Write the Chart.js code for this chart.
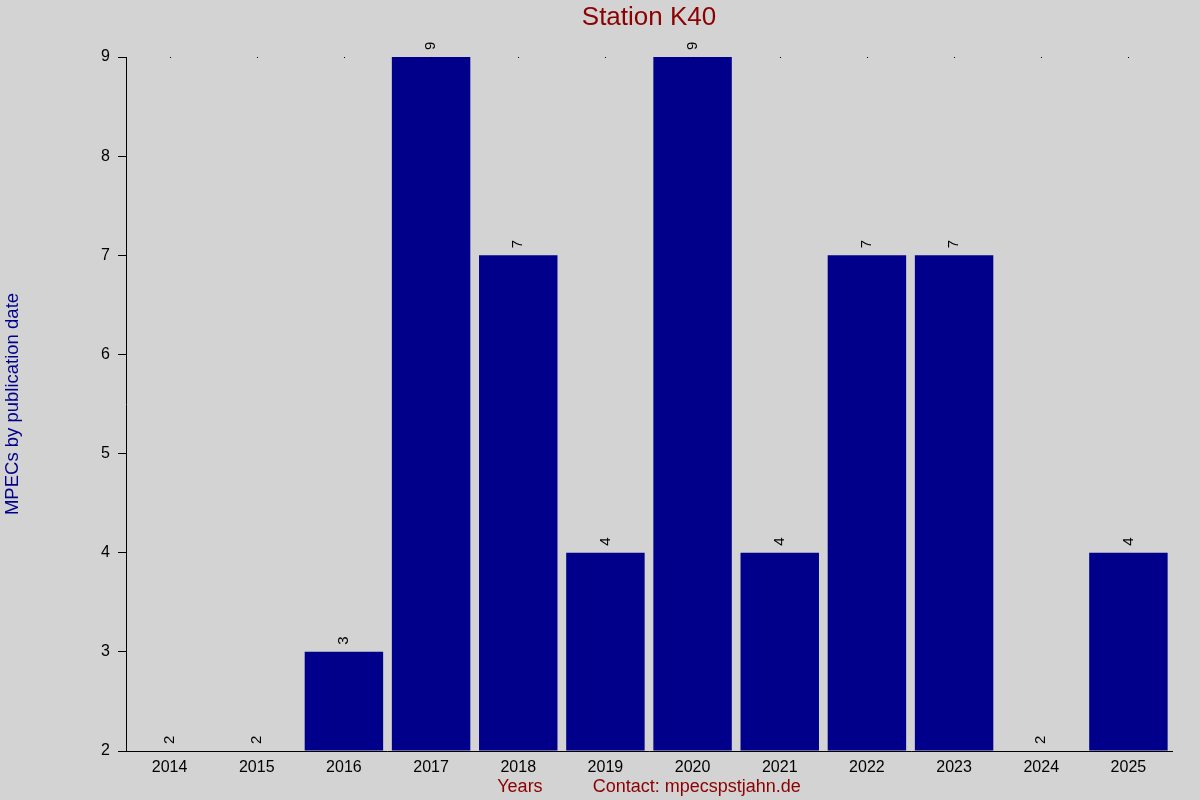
<!DOCTYPE html>
<html>
<head>
<meta charset="utf-8">
<script src="https://cdn.jsdelivr.net/npm/chart.js@4/dist/chart.umd.min.js"></script>
<style>
  html, body { margin: 0; padding: 0; background: #d3d3d3; }
  canvas { display: block; }
</style>
</head>
<body>
<canvas id="myChart" width="1200" height="800"></canvas>
<script>
// MPECs per year for station K40
const years = ['2014', '2015', '2016', '2017', '2018', '2019', '2020', '2021', '2022', '2023', '2024', '2025'];
const mpecCounts = [2, 2, 3, 9, 7, 4, 9, 4, 7, 7, 2, 4];
const yTicks = [2, 3, 4, 5, 6, 7, 8, 9];

const FONT = '"Liberation Sans", Arial, sans-serif';

// background, title over the plot area, value labels, little dots along the top
const extras = {
    id: 'extras',
    beforeDraw(chart) {
        const c = chart.ctx;
        c.save();
        c.fillStyle = '#d3d3d3';
        c.fillRect(0, 0, chart.width, chart.height);
        c.restore();
    },
    afterDatasetsDraw(chart) {
        const c = chart.ctx;
        const meta = chart.getDatasetMeta(0);
        const area = chart.chartArea;
        c.save();
        // title
        c.fillStyle = '#8b0000';
        c.font = '26px ' + FONT;
        c.textAlign = 'center';
        c.textBaseline = 'middle';
        c.fillText('Station K40', (area.left + area.right) / 2, 18);
        // value labels
        c.fillStyle = '#000';
        c.font = '15px ' + FONT;
        c.textAlign = 'left';
        meta.data.forEach((bar, i) => {
            c.save();
            c.translate(bar.x, bar.y - 7);
            c.rotate(-Math.PI / 2);
            c.fillText(String(mpecCounts[i]), 0, 0);
            c.restore();
            c.fillRect(Math.round(bar.x), area.top, 1, 1);
        });
        c.restore();
    }
};

const ctx = document.getElementById('myChart').getContext('2d');
const myChart = new Chart(ctx, {
    type: 'bar',
    data: {
        labels: years,
        datasets: [{
            label: 'MPECs',
            data: mpecCounts,
            base: 2,
            backgroundColor: '#00008b',
            borderWidth: 0,
            inflateAmount: 0,
            barPercentage: 0.9,
            categoryPercentage: 1.0
        }]
    },
    options: {
        responsive: false,
        animation: false,
        devicePixelRatio: 1,
        layout: { padding: { top: 57, right: 28, left: 2, bottom: 0 } },
        plugins: {
            legend: { display: false },
            tooltip: { enabled: false },
            title: { display: false }
        },
        scales: {
            x: {
                grid: { display: false },
                border: { color: '#000', width: 1 },
                ticks: { color: '#000', font: { family: FONT, size: 16 }, maxRotation: 0, padding: -1 },
                title: {
                    display: true,
                    text: 'Years          Contact: mpecspstjahn.de',
                    color: '#8b0000',
                    font: { family: FONT, size: 18 },
                    padding: { top: 0, bottom: 2 }
                },
                afterFit(scale) { scale.height = 49; }
            },
            y: {
                min: 2,
                max: 9,
                afterBuildTicks(scale) { scale.ticks = yTicks.map(v => ({ value: v })); },
                grid: { drawOnChartArea: false, drawTicks: true, tickLength: 8, color: '#000' },
                border: { color: '#000', width: 1 },
                ticks: { color: '#000', font: { family: FONT, size: 16 }, padding: 8 },
                title: {
                    display: true,
                    text: 'MPECs by publication date',
                    color: '#00008b',
                    font: { family: FONT, size: 18.5 },
                    padding: { top: 0, bottom: 0 }
                },
                afterFit(scale) { scale.width = 124; }
            }
        }
    },
    plugins: [extras]
});
</script>
</body>
</html>
